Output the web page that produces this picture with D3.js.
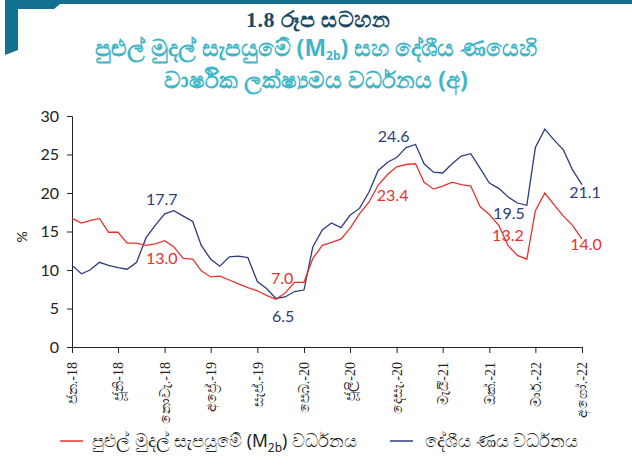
<!DOCTYPE html>
<html>
<head>
<meta charset="utf-8">
<script src="https://cdn.jsdelivr.net/npm/d3@7"></script>
<style>
  body { margin: 0; background: #fff; }
  svg { display: block; }
</style>
</head>
<body>
<svg id="chart" width="632" height="465"></svg>
<script>
// broad money (M2b) growth, y-o-y %, Jan-18 .. Aug-22
const m2bGrowth = [16.7, 16.1, 16.4, 16.7, 14.9, 14.9, 13.5, 13.5, 13.2, 13.4, 13.8, 13.0,
  11.5, 11.4, 9.9, 9.1, 9.2, 8.7, 8.2, 7.7, 7.3, 6.7, 6.2, 7.0,
  8.4, 8.4, 11.5, 13.2, 13.6, 14.0, 15.4, 17.3, 18.8, 21.0, 22.4, 23.4,
  23.7, 23.8, 21.4, 20.5, 20.9, 21.4, 21.1, 20.9, 18.2, 17.2, 15.8, 13.2,
  11.9, 11.4, 17.7, 20.0, 18.5, 17.0, 15.8, 14.0];
// domestic credit growth
const creditGrowth = [10.6, 9.5, 10.0, 11.0, 10.6, 10.3, 10.1, 11.0, 14.2, 15.8, 17.3, 17.7,
  17.0, 16.3, 13.2, 11.4, 10.5, 11.7, 11.8, 11.6, 8.5, 7.6, 6.3, 6.5,
  7.2, 7.4, 13.0, 15.2, 16.1, 15.5, 17.1, 18.0, 20.1, 22.9, 24.0, 24.6,
  25.9, 26.3, 23.8, 22.7, 22.6, 23.8, 24.8, 25.1, 23.2, 21.3, 20.6, 19.5,
  18.7, 18.4, 25.9, 28.3, 26.9, 25.6, 23.0, 21.1];
const tickLabels = ["ජන.-18", "ජූනි-18", "නොවැ.-18", "අප්‍රේ.-19", "සැප්.-19", "පෙබ.-20",
  "ජූලි-20", "දෙසැ.-20", "මැයි-21", "ඔක්.-21", "මාර්.-22", "අගෝ.-22"];
const yTicks = [0, 5, 10, 15, 20, 25, 30];
// value labels: month index, which series, text
const callouts = [
  [11, "credit", "17.7"], [11, "m2b", "13.0"],
  [23, "m2b", "7.0"], [23, "credit", "6.5"],
  [35, "credit", "24.6"], [35, "m2b", "23.4"],
  [47, "credit", "19.5"], [47, "m2b", "13.2"],
  [55, "credit", "21.1"], [55, "m2b", "14.0"]
];

const red = "#e8322e", navy = "#2c3d7c";
const months = d3.timeMonth.range(new Date(2018, 0, 1), new Date(2022, 8, 1));

const svg = d3.select("#chart");

// frame decoration top-left
svg.append("path")
  .attr("d", "M5,0 L632,0 L632,4 L60,4 L54,9 L18,9 L18,50 L5,55 Z")
  .attr("fill", "#13708f");

// titles
svg.append("text").attr("x", 318).attr("y", 27)
  .attr("text-anchor", "middle")
  .style("font", "bold 22px 'Liberation Serif', serif")
  .style("letter-spacing", "0.5px")
  .attr("fill", "#1b4a63")
  .text("1.8 රූප සටහන");

const sub = svg.append("text").attr("text-anchor", "middle")
  .attr("fill", "#3fb6c8")
  .style("font", "bold 23px 'Noto Sans', sans-serif");
const l1 = sub.append("tspan").attr("x", 316).attr("y", 56);
l1.append("tspan").text("පුළුල් මුදල් සැපයුමේ (M");
l1.append("tspan").attr("dy", 4).style("font-size", "12px").text("2b");
l1.append("tspan").attr("dy", -4).text(") සහ දේශීය ණයෙහි");
const sub2 = svg.append("text").attr("text-anchor", "middle")
  .attr("fill", "#3fb6c8")
  .style("font", "bold 23px 'Noto Sans', sans-serif")
  .attr("x", 316).attr("y", 88)
  .text("වාර්ෂික ලක්ෂ්‍යමය වර්ධනය (අ)");

const x = d3.scaleTime().domain([months[0], months[months.length - 1]]).range([72, 582]);
const y = d3.scaleLinear().domain([0, 30]).range([347, 116]);

// y axis
const gy = svg.append("g").attr("transform", "translate(72,0)")
  .call(d3.axisLeft(y).tickValues(yTicks).tickSize(5).tickPadding(8));
gy.selectAll("text").style("font", "16px Lato, sans-serif").attr("fill", "#222");
gy.selectAll("line, path").attr("stroke", "#222");

svg.append("text")
  .attr("transform", "translate(27,237) rotate(-90)")
  .attr("text-anchor", "middle")
  .style("font", "14px Lato, sans-serif")
  .attr("fill", "#222")
  .text("%");

// x axis
const tickDates = months.filter((d, i) => i % 5 === 0);
const gx = svg.append("g").attr("transform", "translate(0,347)")
  .call(d3.axisBottom(x).tickValues(tickDates).tickSize(6).tickFormat((d, i) => tickLabels[i]));
gx.selectAll("line, path").attr("stroke", "#222");
gx.selectAll("text")
  .attr("transform", "rotate(-90)")
  .attr("x", -15).attr("y", 0).attr("dy", "0.35em")
  .attr("text-anchor", "end")
  .style("font", "14px 'Liberation Serif', serif")
  .attr("fill", "#222");

// lines
const line = d3.line().x((d, i) => x(months[i])).y(d => y(d));
svg.append("path").datum(creditGrowth)
  .attr("d", line).attr("fill", "none").attr("stroke", navy).attr("stroke-width", 1.3);
svg.append("path").datum(m2bGrowth)
  .attr("d", line).attr("fill", "none").attr("stroke", red).attr("stroke-width", 1.3);

// callouts (offsets picked by eye)
const offsets = {
  "17.7": [-12, -6], "13.0": [-12, 17], "7.0": [-3, -9], "6.5": [-2, 25],
  "24.6": [-3, -16], "23.4": [-4, 34], "19.5": [1, 22], "13.2": [0, -4],
  "21.1": [3, 13], "14.0": [4, 11]
};
svg.append("g").selectAll("text").data(callouts).join("text")
  .attr("x", d => x(months[d[0]]) + offsets[d[2]][0])
  .attr("y", d => y(d[1] === "m2b" ? m2bGrowth[d[0]] : creditGrowth[d[0]]) + offsets[d[2]][1])
  .attr("text-anchor", "middle")
  .attr("fill", d => d[1] === "m2b" ? red : navy)
  .style("font", "16px Lato, sans-serif")
  .text(d => d[2]);

// legend
const leg = svg.append("g").style("font", "17.5px 'Noto Sans', sans-serif").attr("fill", "#222");
leg.append("line").attr("x1", 60).attr("x2", 83).attr("y1", 441).attr("y2", 441)
  .attr("stroke", red).attr("stroke-width", 1.5);
const t1 = leg.append("text").attr("x", 92).attr("y", 447);
t1.append("tspan").text("පුළුල් මුදල් සැපයුමේ (M");
t1.append("tspan").attr("dy", 5).style("font-size", "12px").text("2b");
t1.append("tspan").attr("dy", -5).text(") වර්ධනය");
leg.append("line").attr("x1", 390).attr("x2", 413).attr("y1", 441).attr("y2", 441)
  .attr("stroke", navy).attr("stroke-width", 1.5);
leg.append("text").attr("x", 425).attr("y", 447).text("දේශීය ණය වර්ධනය");
</script>
</body>
</html>
